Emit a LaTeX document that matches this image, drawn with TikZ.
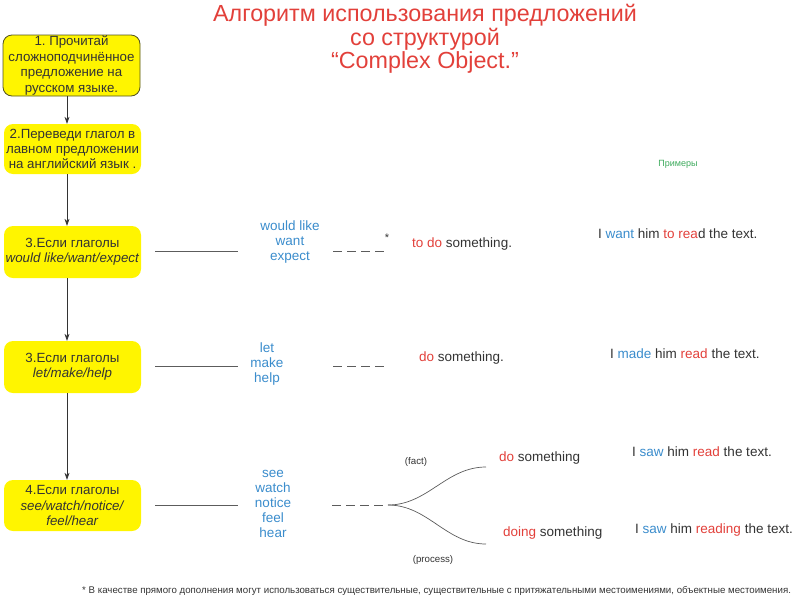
\documentclass[tikz,border=0pt]{standalone}
\usepackage{fontspec}
\setmainfont{Liberation Sans}
\usetikzlibrary{arrows.meta}
\definecolor{ttred}{HTML}{E2403A}
\definecolor{ttblue}{HTML}{3A8CCC}
\definecolor{ttgray}{HTML}{333333}
\definecolor{ttgreen}{HTML}{3DAA5C}
\definecolor{ttyellow}{HTML}{FFF500}
\newcommand{\rd}[1]{\textcolor{ttred}{#1}}
\newcommand{\bl}[1]{\textcolor{ttblue}{#1}}
\frenchspacing
\begin{document}
\begin{tikzpicture}[x=1pt,y=-1pt,
  stepbox/.style={fill=ttyellow, rounded corners=9pt, align=center, text=ttgray,
    minimum width=137pt, inner sep=0.5pt, font=\fontsize{13.3}{15.4}\selectfont},
  arr/.style={-{Stealth[length=7pt,width=5pt]}, draw=ttgray, line width=0.7pt},
  link/.style={draw=ttgray!80, line width=0.7pt},
  dsh/.style={draw=ttgray!80, line width=0.7pt, dash pattern=on 9pt off 5pt},
  vlist/.style={text=ttblue, align=center, font=\fontsize{13.5}{15.2}\selectfont},
  txt/.style={text=ttgray, font=\fontsize{13.5}{15}\selectfont, inner sep=0pt},
  small/.style={text=ttgray, font=\fontsize{9.7}{11}\selectfont, inner sep=0pt}]
\useasboundingbox (0,0) rectangle (800,600);

% title
\node[text=ttred, align=center, font=\fontsize{23.3}{23.5}\selectfont] (title) at (425,39)
  {Алгоритм использования предложений\\со структурой\\“Complex Object.”};

% steps
\node[stepbox, draw=ttgray!60!olive, line width=0.8pt, minimum height=61pt] (b1) at (71.5,65.5)
  {1. Прочитай\\сложноподчинённое\\предложение на\\русском языке.};
\node[stepbox, minimum height=50pt] (b2) at (72.5,149)
  {2.Переведи глагол в\\лавном предложении\\на английский язык .};
\node[stepbox, minimum height=52pt] (b3) at (72.5,252)
  {3.Если глаголы\\\textit{would like/want/expect}};
\node[stepbox, minimum height=52pt] (b4) at (72.5,367)
  {3.Если глаголы\\\textit{let/make/help}};
\node[stepbox, minimum height=51pt] (b5) at (72.5,505.5)
  {4.Если глаголы\\\textit{see/watch/notice/}\\\textit{feel/hear}};

\coordinate (ax) at (67,0);
\draw[arr] (b1.south -| ax) -- (b2.north -| ax);
\draw[arr] (b2.south -| ax) -- (b3.north -| ax);
\draw[arr] (b3.south -| ax) -- (b4.north -| ax);
\draw[arr] (b4.south -| ax) -- (b5.north -| ax);

% verb lists
\node[vlist] (v1) at (290,242) {would like\\want\\expect};
\node[vlist] (v2) at (267,364) {let\\make\\help};
\node[vlist] (v3) at (273,504) {see\\watch\\notice\\feel\\hear};

% row 1
\coordinate (l1a) at (155,251); \coordinate (l1b) at (238,251);
\draw[link] (l1a) -- (l1b);
\coordinate (d1a) at (333,251); \coordinate (d1b) at (384,251);
\draw[dsh] (d1a) -- (d1b);
\node[small, font=\fontsize{11}{11}\selectfont] (star) at (387,238) {*};
\node[txt, anchor=west] (r1) at (412,244) {\rd{to do} something.};
\node[txt, anchor=west] (e1) at (598,234) {I \bl{want} him \rd{to rea}d the text.};
\node[text=ttgreen, font=\fontsize{9}{10}\selectfont, inner sep=0pt] (ex) at (678,164) {Примеры};

% row 2
\coordinate (l2a) at (155,366); \coordinate (l2b) at (238,366);
\draw[link] (l2a) -- (l2b);
\coordinate (d2a) at (333,366); \coordinate (d2b) at (384,366);
\draw[dsh] (d2a) -- (d2b);
\node[txt, anchor=west] (r2) at (419,358) {\rd{do} something.};
\node[txt, anchor=west] (e2) at (610,354) {I \bl{made} him \rd{read} the text.};

% row 3
\coordinate (l3a) at (155,505); \coordinate (l3b) at (238,505);
\draw[link] (l3a) -- (l3b);
\coordinate (d3a) at (332,505); \coordinate (d3b) at (385,505);
\draw[dsh] (d3a) -- (d3b);
\coordinate (fk) at (388,505);
\coordinate (up) at (486,467);
\coordinate (lo) at (486,544);
\draw[link] (fk) .. controls (428,505) and (446,467) .. (up);
\draw[link] (fk) .. controls (428,505) and (446,544) .. (lo);
\node[small] (fact) at (416,462) {(fact)};
\node[small] (proc) at (433,560) {(process)};
\node[txt, anchor=west] (r3) at (499,458) {\rd{do} something};
\node[txt, anchor=west] (r4) at (503,533) {\rd{doing} something};
\node[txt, anchor=west] (e3) at (632,452) {I \bl{saw} him \rd{read} the text.};
\node[txt, anchor=west] (e4) at (635,530) {I \bl{saw} him \rd{reading} the text.};

% footnote
\node[small, anchor=west] (fn) at (82,591)
  {* В качестве прямого дополнения могут использоваться существительные, существительные с притяжательными местоимениями, объектные местоимения.};
\end{tikzpicture}
\end{document}
